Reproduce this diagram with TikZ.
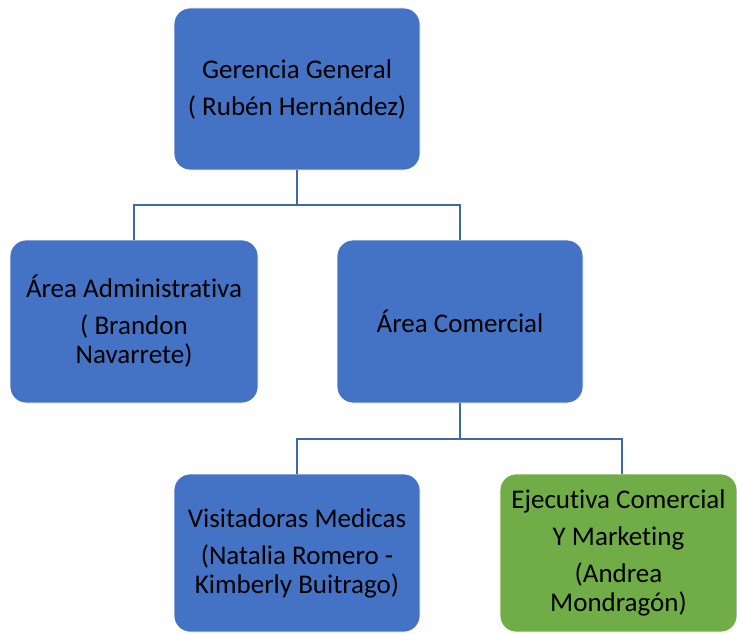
\documentclass[tikz,border=0pt]{standalone}
\usepackage{fontspec}
\setmainfont[Ligatures=NoCommon]{Carlito}
\usepackage{xcolor}
\usetikzlibrary{positioning,calc}
\definecolor{boxblue}{HTML}{4472C4}
\definecolor{boxgreen}{HTML}{70AD47}
\definecolor{lineblue}{HTML}{4068A8}
\tikzset{
  cargo/.style={draw=white, line width=0.8pt, fill=boxblue, rounded corners=16pt,
    align=center, text=black, inner sep=0pt,
    font=\fontsize{27}{29}\selectfont},
  conn/.style={draw=lineblue, line width=2.4pt}
}

\begin{document}
\begin{tikzpicture}[x=1pt,y=-1pt]
\useasboundingbox (0,0) rectangle (737,634);
%%%%%%%%%%%% cargos
\node[cargo, minimum width=246pt, minimum height=162pt] (gerencia) at (297,89)
  {Gerencia General\\[8pt]( Rubén Hernández)};
\node[cargo, minimum width=248pt, minimum height=163pt] (admin) at (134,321.5)
  {Área Administrativa\\[8pt]( Brandon\\Navarrete)};
\node[cargo, minimum width=246pt, minimum height=163pt] (comercial) at (460,321.5)
  {Área Comercial};
\node[cargo, minimum width=246pt, minimum height=158pt] (visitadoras) at (297,553)
  {Visitadoras Medicas\\[8pt](Natalia Romero -\\Kimberly Buitrago)};
\node[cargo, fill=boxgreen, minimum width=237pt, minimum height=158pt] (ejecutiva) at (618.5,553)
  {Ejecutiva Comercial\\[8pt]Y Marketing\\[8pt](Andrea\\Mondragón)};
%%%%%%%%%%%% lineas
\coordinate (j1) at (297,205);
\coordinate (j2) at (460,439);
\draw[conn] (gerencia.south) -- (j1);
\draw[conn] (admin.north) |- (j1) -| (comercial.north);
\draw[conn] (comercial.south) -- (j2);
\draw[conn] (visitadoras.north) |- (j2) -| (ejecutiva.north -| 622,0);
\end{tikzpicture}
\end{document}
